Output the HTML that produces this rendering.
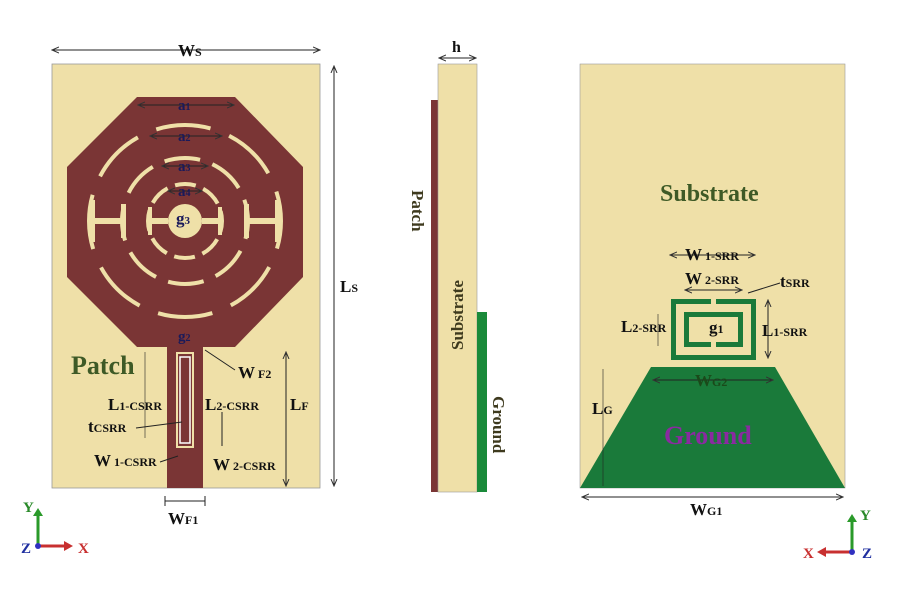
<!DOCTYPE html>
<html><head><meta charset="utf-8"><style>
body{margin:0;background:#fff;}
svg{display:block;font-family:"Liberation Serif",serif;font-weight:bold;}
</style></head><body>
<svg width="900" height="616" viewBox="0 0 900 616" xmlns="http://www.w3.org/2000/svg">
<defs>
<marker id="a" markerWidth="8" markerHeight="8" refX="7" refY="4" orient="auto-start-reverse"><path d="M0,1 L7,4 L0,7" fill="none" stroke="#333" stroke-width="1"/></marker>
</defs>
<!-- LEFT -->
<rect x="52" y="64" width="268" height="424" fill="#efe0a8" stroke="#999" stroke-width="0.8"/>
<polygon points="137,97 235,97 303,167 303,277 235,347 137,347 67,277 67,167" fill="#7a3535"/>
<rect x="167" y="345" width="36" height="143" fill="#7a3535"/>
<g fill="none" stroke="#efe0a8" stroke-width="4">
<circle cx="185" cy="221" r="96" stroke-dasharray="55 20" stroke-dashoffset="27"/>
<circle cx="185" cy="221" r="63" stroke-dasharray="36 13" stroke-dashoffset="18"/>
<circle cx="185" cy="221" r="37" stroke-dasharray="21 8" stroke-dashoffset="10"/>
</g>
<circle cx="185" cy="221" r="17" fill="#efe0a8"/>
<g fill="#efe0a8">
<rect x="91" y="218" width="34" height="6"/><rect x="245" y="218" width="34" height="6"/>
<rect x="150" y="218" width="18" height="6"/><rect x="202" y="218" width="18" height="6"/>
<rect x="90" y="200" width="5" height="42"/><rect x="121" y="204" width="5" height="34"/>
<rect x="244" y="204" width="5" height="34"/><rect x="275" y="200" width="5" height="42"/>
<rect x="148" y="207" width="4" height="28"/><rect x="218" y="207" width="4" height="28"/>
</g>
<rect x="176" y="352" width="18" height="96" fill="#efe0a8"/>
<rect x="178" y="354" width="14" height="92" fill="#7a3535"/>
<rect x="180" y="357" width="10" height="86" fill="none" stroke="#fff" stroke-width="1.5"/>
<g stroke="#222" stroke-width="1" fill="none">
<line x1="138" y1="105" x2="234" y2="105" marker-start="url(#a)" marker-end="url(#a)"/>
<line x1="150" y1="136" x2="222" y2="136" marker-start="url(#a)" marker-end="url(#a)"/>
<line x1="162" y1="166" x2="208" y2="166" marker-start="url(#a)" marker-end="url(#a)"/>
<line x1="168" y1="191" x2="202" y2="191" marker-start="url(#a)" marker-end="url(#a)"/>
<line x1="52" y1="50" x2="320" y2="50" marker-start="url(#a)" marker-end="url(#a)"/>
<line x1="334" y1="66" x2="334" y2="486" marker-start="url(#a)" marker-end="url(#a)"/>
<line x1="286" y1="352" x2="286" y2="486" marker-start="url(#a)" marker-end="url(#a)"/>
<line x1="165" y1="501" x2="205" y2="501"/><line x1="165" y1="496" x2="165" y2="506"/><line x1="205" y1="496" x2="205" y2="506"/>
<line x1="222" y1="412" x2="222" y2="446"/>
<line x1="145" y1="352" x2="145" y2="438" stroke-width="0.6"/>
<line x1="205" y1="350" x2="235" y2="370"/>
<line x1="136" y1="428" x2="182" y2="422"/>
<line x1="160" y1="462" x2="178" y2="456"/>
</g>
<g fill="#1a1a5a" font-size="15">
<text x="178" y="110">a<tspan font-size="10">1</tspan></text>
<text x="178" y="141">a<tspan font-size="10">2</tspan></text>
<text x="178" y="171">a<tspan font-size="10">3</tspan></text>
<text x="178" y="196">a<tspan font-size="10">4</tspan></text>
<text x="176" y="224" font-size="17">g<tspan font-size="11">3</tspan></text>
<text x="178" y="341">g<tspan font-size="10">2</tspan></text>
</g>
<g fill="#111" font-size="17">
<text x="178" y="56">W<tspan font-size="12">S</tspan></text>
<text x="340" y="292">L<tspan font-size="12">S</tspan></text>
<text x="290" y="410">L<tspan font-size="12">F</tspan></text>
<text x="238" y="378">W<tspan font-size="12"> F2</tspan></text>
<text x="108" y="410">L<tspan font-size="12">1-CSRR</tspan></text>
<text x="205" y="410">L<tspan font-size="12">2-CSRR</tspan></text>
<text x="88" y="432">t<tspan font-size="12">CSRR</tspan></text>
<text x="94" y="466">W<tspan font-size="12"> 1-CSRR</tspan></text>
<text x="213" y="470">W<tspan font-size="12"> 2-CSRR</tspan></text>
<text x="168" y="524">W<tspan font-size="12">F1</tspan></text>
</g>
<text x="71" y="374" font-size="26" fill="#3e5a26">Patch</text>
<!-- axes left -->
<line x1="38" y1="546" x2="38" y2="514" stroke="#2a9a2a" stroke-width="3"/>
<polygon points="33,516 43,516 38,508" fill="#2a9a2a"/>
<line x1="38" y1="546" x2="66" y2="546" stroke="#c83030" stroke-width="3"/>
<polygon points="64,541 64,551 73,546" fill="#c83030"/>
<circle cx="38" cy="546" r="3" fill="#3030c0"/>
<text x="23" y="512" font-size="15" fill="#2a8a2a">Y</text>
<text x="21" y="553" font-size="15" fill="#2030a0">Z</text>
<text x="78" y="553" font-size="15" fill="#c83030">X</text>
<!-- MIDDLE -->
<rect x="431" y="100" width="7" height="392" fill="#7a3535"/>
<rect x="438" y="64" width="39" height="428" fill="#efe0a8" stroke="#999" stroke-width="0.6"/>
<rect x="477" y="312" width="10" height="180" fill="#1a8a3a"/>
<line x1="439" y1="58" x2="476" y2="58" stroke="#222" marker-start="url(#a)" marker-end="url(#a)"/>
<text x="452" y="52" font-size="16" fill="#111">h</text>
<text transform="translate(412,190) rotate(90)" font-size="17" fill="#3e3a1e">Patch</text>
<text transform="translate(463,350) rotate(-90)" font-size="17" fill="#3e3a1e">Substrate</text>
<text transform="translate(493,396) rotate(90)" font-size="17" fill="#3e3a1e">Ground</text>
<!-- RIGHT -->
<rect x="580" y="64" width="265" height="424" fill="#efe0a8" stroke="#999" stroke-width="0.6"/>
<polygon points="651,367 775,367 845,488 580,488" fill="#1a7a3a"/>
<rect x="671" y="299" width="85" height="61" fill="#1a7a3a"/>
<rect x="676" y="304" width="75" height="51" fill="#efe0a8"/>
<rect x="684" y="312" width="59" height="35" fill="#1a7a3a"/>
<rect x="689" y="317" width="49" height="25" fill="#efe0a8"/>
<rect x="711" y="298" width="5" height="7" fill="#efe0a8"/>
<rect x="711" y="341" width="5" height="7" fill="#efe0a8"/>
<text x="660" y="201" font-size="24" fill="#3e5a26">Substrate</text>
<text x="664" y="444" font-size="26" fill="#8a2aa0">Ground</text>
<g stroke="#222" stroke-width="1" fill="none">
<line x1="670" y1="255" x2="755" y2="255" marker-start="url(#a)" marker-end="url(#a)"/>
<line x1="685" y1="290" x2="742" y2="290" marker-start="url(#a)" marker-end="url(#a)"/>
<line x1="768" y1="300" x2="768" y2="358" marker-start="url(#a)" marker-end="url(#a)"/>
<line x1="658" y1="314" x2="658" y2="346" stroke-width="0.6"/>
<line x1="653" y1="380" x2="773" y2="380" marker-start="url(#a)" marker-end="url(#a)"/>
<line x1="603" y1="369" x2="603" y2="486" stroke-width="0.6"/>
<line x1="582" y1="497" x2="843" y2="497" marker-start="url(#a)" marker-end="url(#a)"/>
<line x1="748" y1="293" x2="780" y2="283"/>
</g>
<g fill="#111" font-size="17">
<text x="685" y="260">W<tspan font-size="12"> 1-SRR</tspan></text>
<text x="685" y="284">W<tspan font-size="12"> 2-SRR</tspan></text>
<text x="780" y="287">t<tspan font-size="12">SRR</tspan></text>
<text x="621" y="332">L<tspan font-size="12">2-SRR</tspan></text>
<text x="762" y="336">L<tspan font-size="12">1-SRR</tspan></text>
<text x="709" y="333">g<tspan font-size="12">1</tspan></text>
<text x="695" y="386" fill="#1a4a1a">W<tspan font-size="12">G2</tspan></text>
<text x="592" y="414">L<tspan font-size="12">G</tspan></text>
<text x="690" y="515">W<tspan font-size="12">G1</tspan></text>
</g>
<!-- axes right -->
<line x1="852" y1="552" x2="852" y2="520" stroke="#2a9a2a" stroke-width="3"/>
<polygon points="847,522 857,522 852,514" fill="#2a9a2a"/>
<line x1="852" y1="552" x2="824" y2="552" stroke="#c83030" stroke-width="3"/>
<polygon points="826,547 826,557 817,552" fill="#c83030"/>
<circle cx="852" cy="552" r="3" fill="#3030c0"/>
<text x="860" y="520" font-size="15" fill="#2a8a2a">Y</text>
<text x="862" y="558" font-size="15" fill="#2030a0">Z</text>
<text x="803" y="558" font-size="15" fill="#c83030">X</text>
</svg>
</body></html>
